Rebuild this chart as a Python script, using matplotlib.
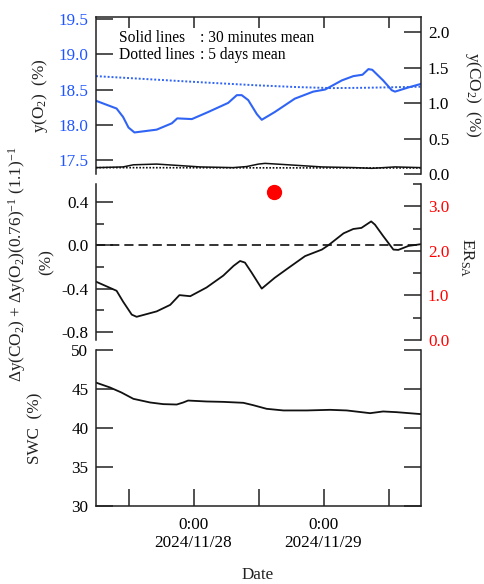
import matplotlib
matplotlib.use("Agg")
import matplotlib.pyplot as plt
import matplotlib.dates as mdates
from matplotlib.ticker import FixedLocator
import pandas as pd

plt.rcParams['font.family'] = ['Liberation Serif', 'DejaVu Serif']
plt.rcParams['mathtext.fontset'] = 'custom'
plt.rcParams['mathtext.rm'] = 'Liberation Serif'
plt.rcParams['mathtext.it'] = 'Liberation Serif:italic'
plt.rcParams['mathtext.default'] = 'regular'
plt.rcParams['axes.unicode_minus'] = False

# ---------------- data (hours after 2024-11-27 06:00) ----------------
START = pd.Timestamp("2024-11-27 06:00")
SPAN_H = 60

o2_hours = [0, 3.8, 5, 6, 7.1, 11.2, 14, 15, 17.7, 20.7, 24.4, 26, 26.9, 28.1, 29.7,
            30.6, 33, 36.7, 40.1, 42.3, 45.4, 47.5, 49.2, 50.3, 51, 53, 54.6, 55.2, 57.7, 60]
o2_30min = [18.34, 18.23, 18.11, 17.96, 17.89, 17.93, 18.02, 18.09, 18.08, 18.18, 18.31,
            18.42, 18.42, 18.35, 18.15, 18.07, 18.18, 18.37, 18.47, 18.50, 18.63, 18.69,
            18.71, 18.79, 18.78, 18.63, 18.49, 18.47, 18.53, 18.58]

o2_5d_hours = [0, 10, 20, 29.6, 37, 43.5, 50, 60]
o2_5d = [18.69, 18.645, 18.60, 18.56, 18.535, 18.52, 18.525, 18.54]

co2_hours = [0, 5, 6.9, 11.2, 14.3, 19.2, 25.3, 27.8, 30, 31.2, 35.5, 41.7, 47.8, 50.9, 55.2, 60]
co2_30min = [0.09, 0.10, 0.13, 0.14, 0.125, 0.10, 0.09, 0.105, 0.14, 0.15, 0.13, 0.10,
             0.09, 0.08, 0.10, 0.09]

co2_5d_hours = [0, 30, 60]
co2_5d = [0.09, 0.087, 0.085]

dy_hours = [0, 2.9, 3.8, 5, 6.6, 7.5, 11.2, 13.7, 15.4, 17.4, 20.4, 23.5, 25.4, 26.6, 27.5,
            28.7, 30.6, 33, 35.5, 38.6, 41.7, 42.9, 45.7, 47.5, 49, 50.8, 51.5, 53, 54.9,
            55.8, 57.7, 60]
dy_vals = [-0.336, -0.40, -0.42, -0.52, -0.64, -0.66, -0.61, -0.55, -0.46, -0.47, -0.39,
           -0.28, -0.19, -0.145, -0.16, -0.25, -0.40, -0.30, -0.21, -0.10, -0.04, 0.0,
           0.11, 0.15, 0.16, 0.22, 0.19, 0.086, -0.04, -0.043, -0.006, 0.01]

er_hours = [32.9]
er_vals = [3.33]

swc_hours = [0, 2.6, 4.7, 6.9, 10, 12.4, 14.9, 16.1, 17, 20.4, 23.5, 27.2, 29, 31.5, 34.6,
             38.9, 43.2, 46.3, 50.6, 53, 55.5, 60]
swc_vals = [45.82, 45.19, 44.55, 43.74, 43.27, 43.06, 43.01, 43.27, 43.52, 43.4, 43.35,
            43.23, 42.93, 42.46, 42.25, 42.25, 42.33, 42.25, 41.9, 42.12, 42.03, 41.78]

o2_ticks = [17.5, 18.0, 18.5, 19.0, 19.5]
co2_ticks = [0.0, 0.5, 1.0, 1.5, 2.0]
dy_ticks = [-0.8, -0.4, 0.0, 0.4]
er_ticks = [0.0, 1.0, 2.0, 3.0]
swc_ticks = [30, 35, 40, 45, 50]


def t(hours):
    return START + pd.to_timedelta(hours, unit="h")


# ---------------- figure ----------------
W, H = 485, 584
fig = plt.figure(figsize=(W / 100, H / 100), dpi=100)


def rect(x0, y0, x1, y1):
    return [x0 / W, 1 - y1 / H, (x1 - x0) / W, (y1 - y0) / H]


AX_COL = "#222222"
BLUE_T = "#1f55ff"
BLUE_L = "#3064f5"
RED = "#ff0000"
FS = 12.3
LW_AX = 1.1

ax1 = fig.add_axes(rect(96, 17, 421, 174))
ax2 = fig.add_axes(rect(96, 184, 421, 340))
ax3 = fig.add_axes(rect(96, 350, 421, 506))
ax1r = ax1.twinx()
ax2r = ax2.twinx()

xlim = (t(0), t(SPAN_H))
tick_times = [pd.Timestamp("2024-11-27 12:00") + pd.Timedelta(hours=12 * i) for i in range(5)]

for a in (ax1, ax2, ax3, ax1r, ax2r):
    a.set_xlim(*xlim)
    a.patch.set_visible(False)
    for s in a.spines.values():
        s.set_visible(False)
        s.set_linewidth(LW_AX)
        s.set_color(AX_COL)
    a.tick_params(axis="both", which="both", direction="in", color=AX_COL,
                  width=LW_AX, labelsize=FS)

# ---- top panel ----
ax1.plot(t(o2_hours), o2_30min, color=BLUE_L, lw=1.5)
ax1.plot(t(o2_5d_hours), o2_5d, color=BLUE_L, lw=1.4, ls=(0, (1, 1)))
ax1.set_ylim(17.30, 19.53)
ax1.yaxis.set_major_locator(FixedLocator(o2_ticks))
ax1.set_yticklabels([f"{v:.1f}" for v in o2_ticks])
ax1.tick_params(axis="y", length=12, pad=5.5, labelcolor=BLUE_T)
ax1.spines["left"].set_visible(True)
ax1.spines["top"].set_visible(True)
ax1.xaxis.set_major_locator(FixedLocator(mdates.date2num(tick_times)))
ax1.tick_params(axis="x", top=True, bottom=False, labeltop=False, labelbottom=False, length=8)

ax1r.plot(t(co2_hours), co2_30min, color="#111111", lw=1.1)
ax1r.plot(t(co2_5d_hours), co2_5d, color="#111111", lw=1.2, ls=(0, (1, 1)))
ax1r.set_ylim(0.0, 2.217)
ax1r.yaxis.set_major_locator(FixedLocator(co2_ticks))
ax1r.set_yticklabels([f"{v:.1f}" for v in co2_ticks])
ax1r.tick_params(axis="y", length=12, pad=5, labelcolor="black")
ax1r.spines["right"].set_visible(True)
ax1r.tick_params(axis="x", which="both", bottom=False, top=False, labelbottom=False, labeltop=False)

# ---- middle panel ----
ax2.plot(t(dy_hours), dy_vals, color="#111111", lw=1.3)
ax2.axhline(0.0, color="#111111", lw=1.2, ls=(0, (5.5, 3)))
ax2.set_ylim(-0.874, 0.565)
ax2.yaxis.set_major_locator(FixedLocator(dy_ticks))
ax2.yaxis.set_minor_locator(FixedLocator([-0.6, -0.2, 0.2]))
ax2.set_yticklabels([f"{v:.1f}" for v in dy_ticks])
ax2.tick_params(axis="y", which="major", length=12, pad=5.5, labelcolor="black")
ax2.tick_params(axis="y", which="minor", length=6)
ax2.spines["left"].set_visible(True)
ax2.tick_params(axis="x", which="both", bottom=False, top=False, labelbottom=False)

ax2r.plot(t(er_hours), er_vals, "o", color=RED, ms=10, mec=RED)
ax2r.set_ylim(0.0, 3.5)
ax2r.yaxis.set_major_locator(FixedLocator(er_ticks))
ax2r.yaxis.set_minor_locator(FixedLocator([0.5, 1.5, 2.5, 3.5]))
ax2r.set_yticklabels([f"{v:.1f}" for v in er_ticks])
ax2r.tick_params(axis="y", which="major", length=12, pad=5, labelcolor=RED)
ax2r.tick_params(axis="y", which="minor", length=6)
ax2r.spines["right"].set_visible(True)
ax2r.tick_params(axis="x", which="both", bottom=False, top=False, labelbottom=False)

# ---- bottom panel ----
ax3.plot(t(swc_hours), swc_vals, color="#111111", lw=1.3)
ax3.set_ylim(30, 50)
ax3.yaxis.set_major_locator(FixedLocator(swc_ticks))
ax3.set_yticklabels([str(v) for v in swc_ticks])
ax3.tick_params(axis="y", length=12, pad=5.5, left=True, right=True, labelright=False)
ax3.spines["left"].set_visible(True)
ax3.spines["right"].set_visible(True)
ax3.spines["bottom"].set_visible(True)
ax3.xaxis.set_major_locator(FixedLocator(mdates.date2num(tick_times)))
ax3.set_xticklabels([ts.strftime("%-H:%M\n%Y/%m/%d") if ts.hour == 0 else "" for ts in tick_times],
                    linespacing=1.15)
ax3.tick_params(axis="x", length=12, pad=8, bottom=True, top=False)

# ---- texts ----
def ftext(x, y, s, **kw):
    fig.text(x / W, 1 - y / H, s, ha=kw.pop("ha", "center"), va=kw.pop("va", "center"),
             fontsize=kw.pop("fontsize", FS), **kw)

LEG_FS = 11.2
ftext(119, 38, "Solid lines", ha="left", fontsize=LEG_FS)
ftext(200, 38, ": 30 minutes mean", ha="left", fontsize=LEG_FS)
ftext(119, 55, "Dotted lines", ha="left", fontsize=LEG_FS)
ftext(200, 55, ": 5 days mean", ha="left", fontsize=LEG_FS)

ftext(40, 96, "y(O$_2$)  (%)", rotation=90, color="#222222")
ftext(473, 95, "y(CO$_2$)  (%)", rotation=-90, color="#222222")
ftext(17, 264, r"$\Delta$y(CO$_2$) + $\Delta$y(O$_2$)(0.76)$^{-1}$ (1.1)$^{-1}$",
      rotation=90, color="#222222")
ftext(47, 262, "(%)", rotation=90, color="#222222")
ftext(467, 258, "ER$_{SA}$", rotation=-90, color="#222222")
ftext(35, 428, "SWC  (%)", rotation=90, color="#222222")
ftext(258, 575, "Date", color="#222222")

fig.savefig("out.png", dpi=100)
